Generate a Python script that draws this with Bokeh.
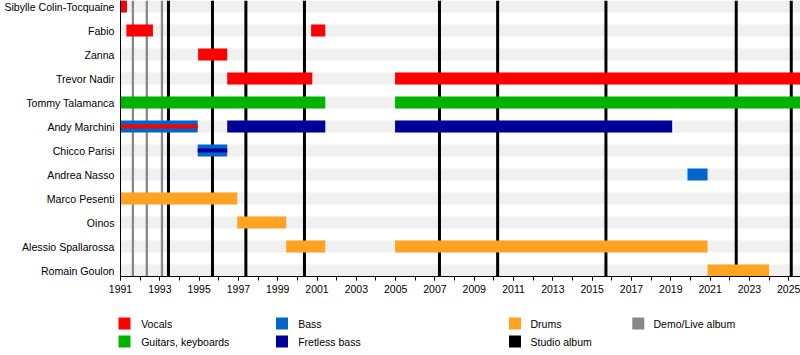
from bokeh.plotting import figure
from bokeh.models import Range1d, FixedTicker, ColumnDataSource
from bokeh.layouts import column, row
from bokeh.embed import file_html
from bokeh.resources import INLINE
from bokeh.core.properties import value

# ---------------- data ----------------
members = ["Sibylle Colin-Tocquaine", "Fabio", "Zanna", "Trevor Nadir",
           "Tommy Talamanca", "Andy Marchini", "Chicco Parisi", "Andrea Nasso",
           "Marco Pesenti", "Oinos", "Alessio Spallarossa", "Romain Goulon"]

START = 1991.0
END = 2025.6

bar_member = ["Sibylle Colin-Tocquaine", "Fabio", "Fabio", "Zanna",
              "Trevor Nadir", "Trevor Nadir", "Tommy Talamanca", "Tommy Talamanca",
              "Andy Marchini", "Andy Marchini", "Andy Marchini", "Chicco Parisi",
              "Andrea Nasso", "Marco Pesenti", "Oinos", "Alessio Spallarossa",
              "Alessio Spallarossa", "Romain Goulon"]
bar_role = ["Vocals", "Vocals", "Vocals", "Vocals",
            "Vocals", "Vocals", "Guitars, keyboards", "Guitars, keyboards",
            "Bass", "Fretless bass", "Fretless bass", "Bass",
            "Bass", "Drums", "Drums", "Drums",
            "Drums", "Drums"]
bar_start = [1991.0, 1991.3, 2000.7, 1994.95,
             1996.43, 2004.97, 1991.0, 2004.97,
             1991.0, 1996.43, 2004.97, 1994.93,
             2019.85, 1991.0, 1996.94, 1999.43,
             2004.97, 2020.87]
bar_end = [1991.33, 1992.65, 2001.42, 1996.43,
           2000.76, END, 2001.42, END,
           1994.93, 2001.42, 2019.07, 1996.43,
           2020.87, 1996.94, 1999.43, 2001.42,
           2020.87, 2024.0]

inner_member = ["Andy Marchini", "Chicco Parisi"]
inner_role = ["Vocals", "Fretless bass"]
inner_start = [1991.0, 1994.93]
inner_end = [1994.93, 1996.43]

demo_years = [1991.63, 1992.34, 1993.11]
studio_years = [1993.44, 1995.68, 1997.38, 2000.36, 2007.23, 2010.19,
                2015.70, 2022.33, 2025.13]

tick_years = list(range(1991, 2026, 2))
minor_years = list(range(1991, 2026))

role_names = ["Vocals", "Guitars, keyboards", "Bass", "Fretless bass", "Drums"]
role_colors = ["#ff0000", "#00b300", "#0066cc", "#000099", "#ffa323"]
color_of = dict(zip(role_names, role_colors))

legend_labels = ["Vocals", "Guitars, keyboards", "Bass", "Fretless bass",
                 "Drums", "Studio album", "Demo/Live album"]
legend_colors = ["#ff0000", "#00b300", "#0066cc", "#000099",
                 "#ffa323", "#000000", "#888888"]
# legend layout (pixels in legend strip)
legend_sx = [124, 124, 281.5, 281.5, 514.5, 514.5, 637.8]
legend_tx = [140.7, 140.7, 297.7, 297.7, 530, 530, 653]
legend_y = [23, 41, 23, 41, 23, 41, 23]

FONT = "Liberation Sans"

# ---------------- main chart ----------------
n = len(members)
ypos = {m: n - 1 - i for i, m in enumerate(members)}
Y0, Y1 = -0.25, n - 0.75

p = figure(width=800, height=300, x_range=Range1d(START, END),
           y_range=Range1d(Y0, Y1), output_backend="svg",
           toolbar_location=None, min_border_left=120, min_border_right=0,
           min_border_top=0, min_border_bottom=24)
p.outline_line_color = None
p.xgrid.visible = False
p.ygrid.visible = False
p.background_fill_color = "white"
p.border_fill_color = "white"

# row background stripes
p.hbar(y=[ypos[m] for m in members], left=START, right=END, height=0.5,
       fill_color="#f0f0f0", line_color=None)

# album lines
p.segment(x0=demo_years, x1=demo_years, y0=Y0, y1=Y1,
          line_color="#888888", line_width=2.3)
p.segment(x0=studio_years, x1=studio_years, y0=Y0, y1=Y1,
          line_color="#000000", line_width=3)

# main bars
src = ColumnDataSource(dict(
    y=[ypos[m] for m in bar_member], left=bar_start, right=bar_end,
    color=[color_of[r] for r in bar_role]))
p.hbar(y="y", left="left", right="right", height=0.5, fill_color="color",
       line_color=None, source=src)

# secondary (inner) bars
src2 = ColumnDataSource(dict(
    y=[ypos[m] for m in inner_member], left=inner_start, right=inner_end,
    color=[color_of[r] for r in inner_role]))
p.hbar(y="y", left="left", right="right", height=1 / 6, fill_color="color",
       line_color=None, source=src2)

# axes
xa = p.xaxis[0]
xa.ticker = FixedTicker(ticks=tick_years, minor_ticks=minor_years)
xa.major_tick_out = 4
xa.major_tick_in = 0
xa.minor_tick_out = 4
xa.minor_tick_in = 0
xa.major_label_standoff = 4
xa.axis_line_color = "black"
xa.major_tick_line_color = "black"
xa.minor_tick_line_color = "black"
xa.major_label_text_font = FONT
xa.major_label_text_font_size = "10.5px"
xa.major_label_text_color = "black"

ya = p.yaxis[0]
ya.ticker = FixedTicker(ticks=[ypos[m] for m in members])
ya.major_label_overrides = {ypos[m]: m for m in members}
ya.major_tick_out = 0
ya.major_tick_in = 0
ya.minor_tick_out = 0
ya.minor_tick_in = 0
ya.major_label_standoff = 6
ya.axis_line_color = "black"
ya.major_label_text_font = FONT
ya.major_label_text_font_size = "10.6px"
ya.major_label_text_color = "black"

# ---------------- legend strip ----------------
p2 = figure(width=800, height=55, x_range=Range1d(0, 800),
            y_range=Range1d(55, 0), output_backend="svg",
            toolbar_location=None, min_border=0)
p2.axis.visible = False
p2.xgrid.visible = False
p2.ygrid.visible = False
p2.outline_line_color = None

p2.rect(x=legend_sx, y=legend_y, width=12, height=12,
        fill_color=legend_colors, line_color=None)
p2.text(x=legend_tx, y=legend_y, text=legend_labels,
        text_font=value(FONT), text_font_size="10.5px",
        text_baseline="middle", text_align="left", text_color="black")

layout = column(p, row(p2, spacing=0), spacing=0)
open("out.html", "w").write(file_html(layout, INLINE))
